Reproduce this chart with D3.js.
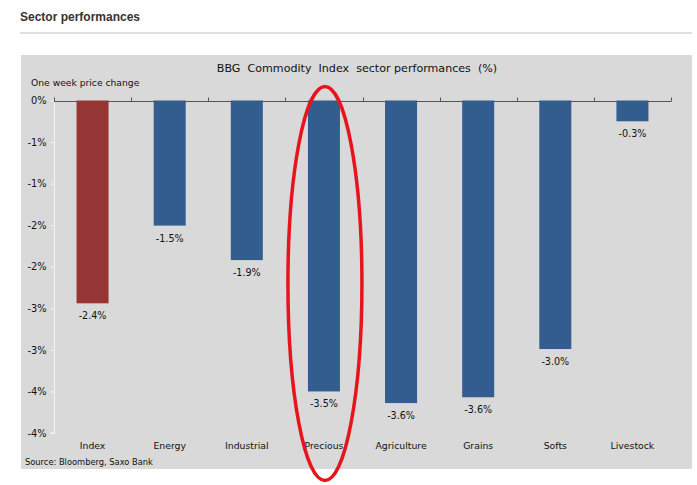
<!DOCTYPE html>
<html><head><meta charset="utf-8">
<script src="https://cdn.jsdelivr.net/npm/d3@7"></script>
<style>
html,body{margin:0;padding:0;background:#fff;}
svg{display:block;}
</style></head>
<body>
<script>
const categories = ["Index","Energy","Industrial","Precious","Agriculture","Grains","Softs","Livestock"];
const values = [-2.44, -1.505, -1.92, -3.50, -3.64, -3.57, -2.99, -0.25];
const valueLabels = ["-2.4%","-1.5%","-1.9%","-3.5%","-3.6%","-3.6%","-3.0%","-0.3%"];
const tickValues = [0,-0.5,-1,-1.5,-2,-2.5,-3,-3.5,-4];
const tickLabels = ["0%","-1%","-1%","-2%","-2%","-3%","-3%","-4%","-4%"];
const highlighted = "Precious";

const W = 697, H = 485;
const svg = d3.select("body").append("svg").attr("width", W).attr("height", H);

// page title
svg.append("text").attr("x", 20).attr("y", 21)
  .attr("font-family", "Liberation Sans, Arial, sans-serif").attr("font-weight", "bold")
  .attr("font-size", 12).attr("fill", "#333").text("Sector performances");
svg.append("rect").attr("x", 20).attr("y", 32).attr("width", 672).attr("height", 2).attr("fill", "#e0e0e0");

// panel
svg.append("rect").attr("x", 21).attr("y", 55).attr("width", 671).attr("height", 414).attr("fill", "#d9d9d9");

const font = "DejaVu Sans, Verdana, sans-serif";
svg.append("text").attr("x", 357).attr("y", 72).attr("text-anchor", "middle")
  .attr("font-family", font).attr("font-size", 11.1).attr("fill", "#111")
  .attr("xml:space", "preserve")
  .text("BBG  Commodity  Index  sector performances  (%)");
svg.append("text").attr("x", 31).attr("y", 86)
  .attr("font-family", font).attr("font-size", 9.2).attr("fill", "#111")
  .text("One week price change");

const x = d3.scaleBand().domain(categories).range([54, 671]).paddingInner(0.585).paddingOuter(0.2925);
const y = d3.scaleLinear().domain([0, -4]).range([100.5, 433]);

// y axis (white line + ticks)
const yAxis = svg.append("g").attr("transform", "translate(54.5,0)")
  .call(d3.axisLeft(y).tickValues(tickValues).tickSize(4).tickPadding(4)
    .tickFormat((d, i) => tickLabels[i]));
yAxis.select(".domain").attr("stroke", "#f4f4f4").attr("d", `M0,${y(0)}V${y(-4)}M-4,${y(-4)}H0`);
yAxis.selectAll(".tick line").attr("stroke", "#f4f4f4");
yAxis.selectAll(".tick text").attr("font-family", font).attr("font-size", 9.8).attr("fill", "#111");

// bars
svg.append("g").selectAll("rect").data(categories).join("rect")
  .attr("x", d => x(d)).attr("width", x.bandwidth())
  .attr("y", y(0)).attr("height", (d, i) => y(values[i]) - y(0))
  .attr("fill", (d, i) => i === 0 ? "#963634" : "#335c8f");

// value labels
svg.append("g").selectAll("text").data(categories).join("text")
  .attr("x", d => x(d) + x.bandwidth() / 2).attr("y", (d, i) => y(values[i]) + 16)
  .attr("text-anchor", "middle").attr("font-family", font).attr("font-size", 9.6).attr("fill", "#111")
  .text((d, i) => valueLabels[i]);

// zero line with upward ticks at band boundaries
const step = x.step();
const zx = svg.append("g").attr("transform", `translate(0,${Math.round(y(0)) + 0.5})`);
zx.append("line").attr("x1", 54).attr("x2", 671).attr("stroke", "#555");
const bounds = d3.range(categories.length + 1).map(i => 54 + i * step);
zx.selectAll("line.t").data(bounds).join("line").attr("class", "t")
  .attr("x1", d => Math.round(d) + 0.5).attr("x2", d => Math.round(d) + 0.5)
  .attr("y1", 0).attr("y2", -4).attr("stroke", "#555");

// category labels
svg.append("g").selectAll("text").data(categories).join("text")
  .attr("x", d => x(d) + x.bandwidth() / 2).attr("y", 449)
  .attr("text-anchor", "middle").attr("font-family", font).attr("font-size", 9.3).attr("fill", "#111")
  .text(d => d);

svg.append("text").attr("x", 25).attr("y", 465)
  .attr("font-family", font).attr("font-size", 8.3).attr("fill", "#111")
  .text("Source: Bloomberg, Saxo Bank");

// highlight ellipse
svg.append("ellipse")
  .attr("cx", x(highlighted) + x.bandwidth() / 2 + 1).attr("cy", 283.5)
  .attr("rx", 37).attr("ry", 197)
  .attr("fill", "none").attr("stroke", "#e8141c").attr("stroke-width", 3.5);
</script>
</body></html>
